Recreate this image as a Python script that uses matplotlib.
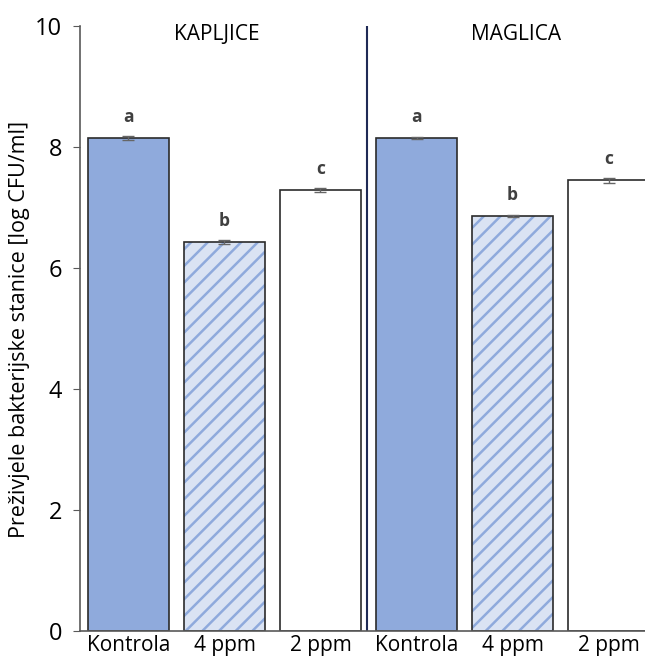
import matplotlib
matplotlib.use("Agg")
import matplotlib.pyplot as plt

categories = ["Kontrola", "4 ppm", "2 ppm", "Kontrola", "4 ppm", "2 ppm"]
groups = ["KAPLJICE", "MAGLICA"]
values = [8.15, 6.43, 7.29, 8.15, 6.86, 7.45]
errors = [0.03, 0.04, 0.04, 0.02, 0.02, 0.04]
letters = ["a", "b", "c", "a", "b", "c"]
yticks = [0, 2, 4, 6, 8, 10]

plt.rcParams['font.family'] = ['Open Sans', 'DejaVu Sans']
plt.rcParams['hatch.linewidth'] = 1.8

fig = plt.figure(figsize=(6.45, 6.62), dpi=100)
ax = fig.add_axes([80/645, 1 - 631/662, 1 - 80/645, (631 - 26)/662])

x = list(range(len(values)))
w = 0.85
blue = "#8faadc"
light = "#dae3f3"
edge = "#2b2b2b"
face = [blue, light, "white", blue, light, "white"]
hatch = [None, "//", None, None, "//", None]

for i in x:
    if hatch[i]:
        ax.bar(i, values[i], w, color=light, edgecolor=blue, hatch=hatch[i], linewidth=0)
        ax.bar(i, values[i], w, fill=False, edgecolor=edge, linewidth=1.2)
    else:
        ax.bar(i, values[i], w, color=face[i], edgecolor=edge, linewidth=1.2)
    ax.errorbar(i, values[i], yerr=errors[i], fmt="none", ecolor="#666666", capsize=4, elinewidth=1)
    ax.text(i, values[i] + 0.2, letters[i], ha="center", va="bottom", fontsize=12.5,
            fontweight="bold", color="#404040")

ax.axvline(2.48, color="#1f2a55", linewidth=1.5, ymin=0, ymax=1)

ax.text(0.92, 9.86, groups[0], ha="center", va="center", fontsize=15, color="black")
ax.text(4.04, 9.86, groups[1], ha="center", va="center", fontsize=15, color="black")

ax.set_xlim(-0.505, 5.38)
ax.set_ylim(0, 10)
ax.set_yticks(yticks)
ax.set_yticklabels([str(t) for t in yticks], fontsize=17)
ax.set_xticks(x)
ax.set_xticklabels(categories, fontsize=15)
ax.tick_params(axis="x", length=0, pad=3)
ax.tick_params(axis="y", length=5, color="#595959", direction="out", pad=8)
fig.text(20/645, 1 - 329/662, "Preživjele bakterijske stanice [log CFU/ml]",
         rotation=90, ha="center", va="center", fontsize=15.5)
for s in ["top", "right"]:
    ax.spines[s].set_visible(False)
ax.spines["left"].set_color("#595959")
ax.spines["bottom"].set_color("#595959")
ax.spines["left"].set_linewidth(1.2)
ax.spines["bottom"].set_linewidth(1.2)

fig.savefig("out.png", dpi=100)
